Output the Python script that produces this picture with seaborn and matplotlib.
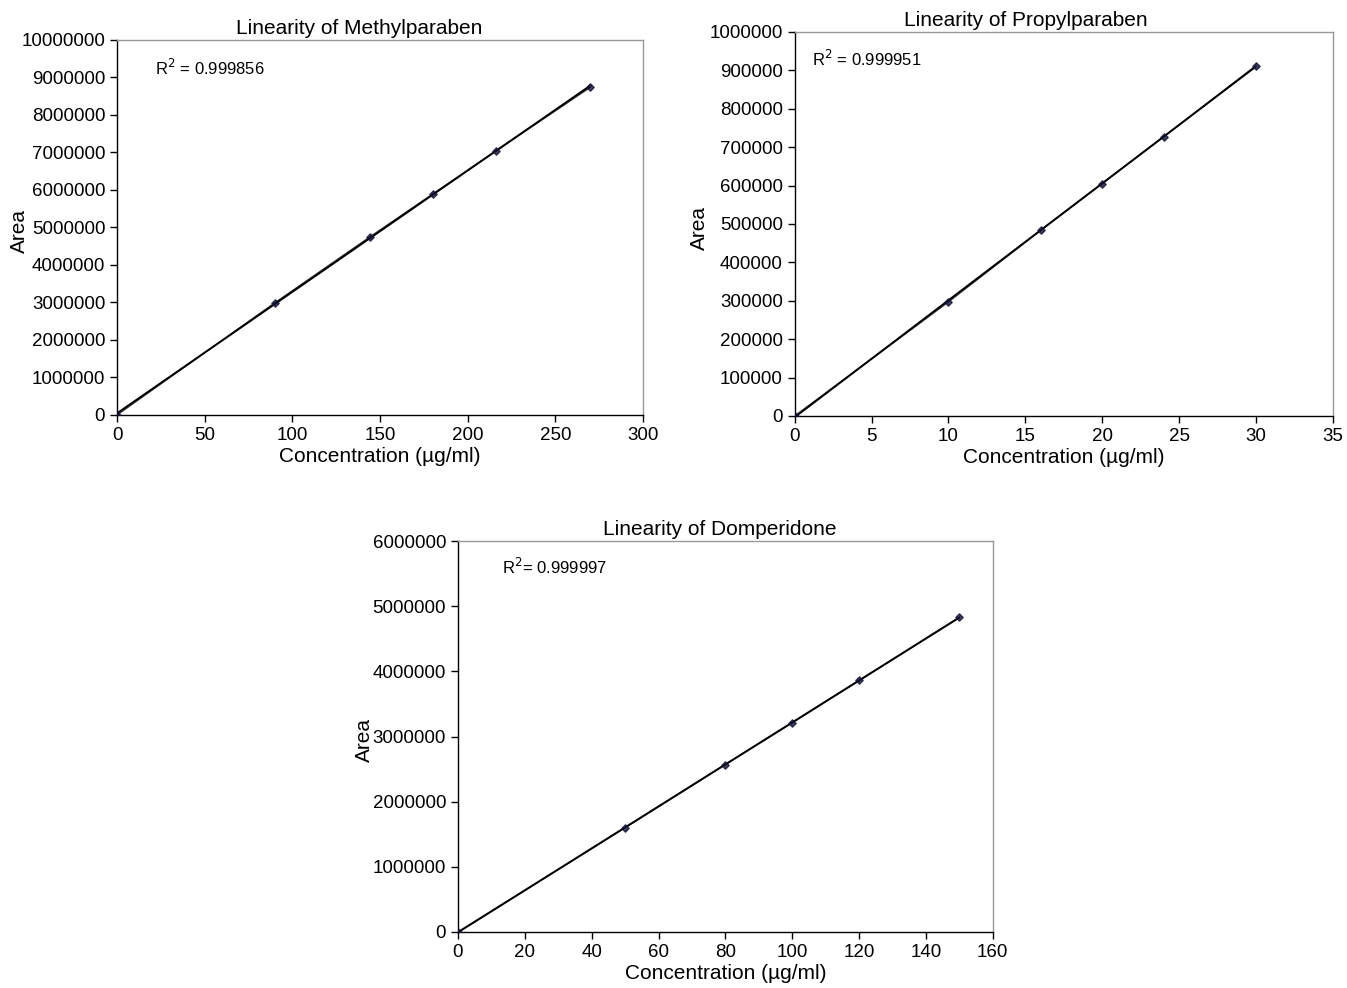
import seaborn as sns
import matplotlib.pyplot as plt
import matplotlib.ticker as mticker
import pandas as pd

# data
methyl_conc = [0, 90, 144, 180, 216, 270]
methyl_area = [0, 2990000, 4740000, 5890000, 7040000, 8740000]
propyl_conc = [0, 10, 16, 20, 24, 30]
propyl_area = [0, 297000, 483000, 605000, 727000, 912000]
domp_conc = [0, 50, 80, 100, 120, 150]
domp_area = [0, 1600000, 2570000, 3210000, 3860000, 4830000]

sns.set_theme(style="ticks")
plt.rcParams['font.family'] = ['Liberation Sans', 'DejaVu Sans']
plt.rcParams['text.color'] = 'black'
plt.rcParams['axes.labelcolor'] = 'black'
plt.rcParams['xtick.color'] = 'black'
plt.rcParams['ytick.color'] = 'black'

fig = plt.figure(figsize=(13.47, 9.88), dpi=100)

panels = [
    # (rect, conc, area, title, r2 text, xmax, xstep, ymax, ystep, title x, r2 pos, ylabel x)
    ([0.0869, 0.580, 0.3905, 0.3796], methyl_conc, methyl_area, "Linearity of Methylparaben",
     r"R$^2$ = 0.999856", 300, 50, 10000000, 1000000, 0.46, (0.072, 0.925), -0.167),
    ([0.590, 0.579, 0.3994, 0.3887], propyl_conc, propyl_area, "Linearity of Propylparaben",
     r"R$^2$ = 0.999951", 35, 5, 1000000, 100000, 0.43, (0.032, 0.93), -0.160),
    ([0.340, 0.0567, 0.397, 0.3957], domp_conc, domp_area, "Linearity of Domperidone",
     r"R$^2$= 0.999997", 160, 20, 6000000, 1000000, 0.49, (0.082, 0.933), -0.157),
]

for rect, conc, area, title, r2, xmax, xstep, ymax, ystep, tx, r2pos, ylx in panels:
    ax = fig.add_axes(rect)
    df = pd.DataFrame({"conc": conc, "area": area})
    sns.lineplot(data=df, x="conc", y="area", ax=ax, color="#333333", lw=1.0)
    sns.regplot(data=df, x="conc", y="area", ax=ax, ci=None, marker="D",
                scatter_kws={"s": 14, "color": "#111133", "zorder": 5},
                line_kws={"color": "black", "lw": 1.4})
    ax.set_xlim(0, xmax)
    ax.set_ylim(0, ymax)
    ax.set_xticks(range(0, xmax + 1, xstep))
    ax.set_yticks(range(0, ymax + 1, ystep))
    ax.yaxis.set_major_formatter(mticker.FuncFormatter(lambda v, p: f"{int(round(v))}"))
    ax.tick_params(axis="both", labelsize=13.5, length=5, width=1, color="black", direction="out")
    ax.set_xlabel("Concentration (µg/ml)", fontsize=15, labelpad=2)
    ax.set_ylabel("Area", fontsize=15)
    ax.yaxis.set_label_coords(ylx, 0.49)
    ax.set_title(title, fontsize=15, x=tx, pad=4)
    for s in ["left", "bottom"]:
        ax.spines[s].set_color("black")
        ax.spines[s].set_linewidth(1.0)
    for s in ["top", "right"]:
        ax.spines[s].set_color("#999999")
        ax.spines[s].set_linewidth(1.0)
    ax.text(r2pos[0], r2pos[1], r2, transform=ax.transAxes, fontsize=12, va="center")

fig.savefig("out.png", dpi=100)
